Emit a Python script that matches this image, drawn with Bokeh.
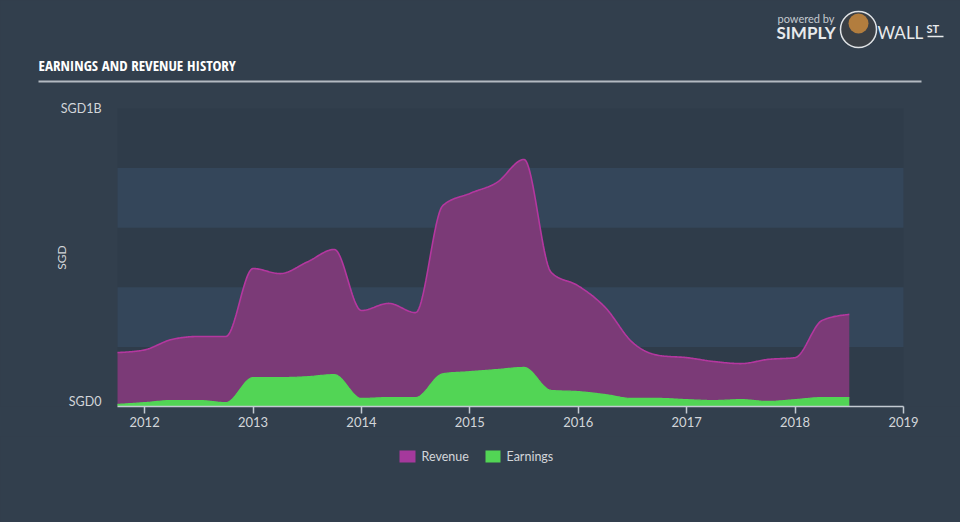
import numpy as np
from bokeh.plotting import figure
from bokeh.layouts import column
from bokeh.models import BoxAnnotation, FixedTicker, Range1d
from bokeh.core.properties import value
from bokeh.embed import file_html
from bokeh.resources import INLINE

# ---------------- data (SGD billions, quarter ends as decimal years) ----------------
quarters = [2011.75, 2012.0, 2012.25, 2012.5, 2012.75, 2013.0, 2013.25, 2013.5, 2013.75,
            2014.0, 2014.25, 2014.5, 2014.75, 2015.0, 2015.25, 2015.5, 2015.75,
            2016.0, 2016.25, 2016.5, 2016.75, 2017.0, 2017.25, 2017.5, 2017.75,
            2018.0, 2018.25, 2018.5]
revenue = [0.181, 0.190, 0.225, 0.235, 0.235, 0.463, 0.446, 0.485, 0.527,
           0.322, 0.346, 0.315, 0.674, 0.715, 0.752, 0.829, 0.450,
           0.405, 0.332, 0.215, 0.171, 0.164, 0.151, 0.144, 0.158,
           0.164, 0.289, 0.309]
earnings = [0.007, 0.013, 0.020, 0.020, 0.013, 0.097, 0.097, 0.100, 0.107,
            0.027, 0.030, 0.030, 0.110, 0.117, 0.124, 0.131, 0.054,
            0.050, 0.040, 0.027, 0.027, 0.023, 0.020, 0.023, 0.017,
            0.023, 0.030, 0.030]
year_ticks = [2012, 2013, 2014, 2015, 2016, 2017, 2018, 2019]
y_labels = ["SGD0", "SGD1B"]
series_names = ["Revenue", "Earnings"]

# ---------------- geometry (pixels of the 960x522 canvas) ----------------
W, H = 960, 522
FL, FR, FT, FB = 117, 903, 108, 406          # plot area
X0, X1, Y0, Y1 = 2011.75, 2019.0, 0.0, 1.0   # its data extent
AXIS_H = 30                                  # panel under the plot for the x axis
HA = FB + AXIS_H                             # height of main figure
HB = H - HA                                  # height of legend strip


def px2x(px):
    return X0 + (px - FL) / (FR - FL) * (X1 - X0)


def py2y(py):
    return Y1 - (py - FT) / (FB - FT) * (Y1 - Y0)


def monotone_curve(xs, ys, steps=24):
    """Render helper: monotone cubic (d3 curveMonotoneX style) path through the points."""
    xs = np.asarray(xs, float)
    ys = np.asarray(ys, float)
    n = len(xs)
    h = np.diff(xs)
    s = np.diff(ys) / h
    t = np.zeros(n)
    for i in range(1, n - 1):
        p_ = (s[i - 1] * h[i] + s[i] * h[i - 1]) / (h[i - 1] + h[i])
        t[i] = (np.sign(s[i - 1]) + np.sign(s[i])) * min(abs(s[i - 1]), abs(s[i]), 0.5 * abs(p_))
    t[0] = (3 * s[0] - t[1]) / 2
    t[-1] = (3 * s[-1] - t[-2]) / 2
    ox, oy = [], []
    for i in range(n - 1):
        u = np.linspace(0, 1, steps, endpoint=(i == n - 2))
        h00 = 2 * u**3 - 3 * u**2 + 1
        h10 = u**3 - 2 * u**2 + u
        h01 = -2 * u**3 + 3 * u**2
        h11 = u**3 - u**2
        ox.extend(xs[i] + u * h[i])
        oy.extend(h00 * ys[i] + h10 * h[i] * t[i] + h01 * ys[i + 1] + h11 * h[i] * t[i + 1])
    return np.array(ox), np.array(oy)


BG = "#323f4d"
DARK = "#2f3c4a"
LIGHT = "#34465a"
TXT = "#d2d6da"
FONT = "Lato"
REV_FILL, REV_LINE, REV_SWATCH = "#7b3a77", "#b4379f", "#a5399c"
EARN = "#52d555"


def style_fig(fig):
    # no border fill (avoids the svg seam at the frame edge); page colour comes from CSS
    fig.border_fill_color = None
    fig.background_fill_color = BG
    fig.outline_line_color = None
    fig.grid.visible = False
    fig.styles = {"background-color": BG}


# frame covers the canvas down to the axis line; the x axis sits in the panel below
p = figure(width=W, height=HA, output_backend="svg", toolbar_location=None,
           x_range=Range1d(px2x(0), px2x(W)), y_range=Range1d(py2y(FB), py2y(0)),
           min_border_left=0, min_border_right=0, min_border_top=0,
           min_border_bottom=AXIS_H)
style_fig(p)
p.yaxis.visible = False

# plot-area background and alternating bands
p.add_layout(BoxAnnotation(left=X0, right=X1, bottom=0.0, top=1.0, fill_color=DARK,
                           fill_alpha=1.0, line_color=None, level="underlay"))
for b, t_ in [(0.2, 0.4), (0.6, 0.8)]:
    p.add_layout(BoxAnnotation(left=X0, right=X1, bottom=b, top=t_, fill_color=LIGHT,
                               fill_alpha=1.0, line_color=None, level="underlay"))

# areas
rx, ry = monotone_curve(quarters, revenue)
ex, ey = monotone_curve(quarters, earnings)
p.varea(x=rx, y1=0, y2=ry, fill_color=REV_FILL, fill_alpha=1.0)
p.line(rx, ry, line_color=REV_LINE, line_width=1.6)
p.varea(x=ex, y1=0, y2=ey, fill_color=EARN, fill_alpha=1.0)
p.line(ex, ey, line_color=EARN, line_width=1.2)

# x axis
ax = p.xaxis[0]
ax.bounds = (X0, X1)
ax.ticker = FixedTicker(ticks=year_ticks)
ax.major_label_overrides = {y: str(y) for y in year_ticks}
ax.axis_line_color = "#c3cad2"
ax.axis_line_width = 1.5
ax.major_tick_line_color = "#c3cad2"
ax.major_tick_line_width = 1.5
ax.major_tick_in = 0
ax.major_tick_out = 7
ax.minor_tick_line_color = None
ax.major_label_text_color = TXT
ax.major_label_text_font = FONT
ax.major_label_text_font_size = "13px"
ax.major_label_standoff = 3


def txt(fig, x, y, s, size, color=TXT, align="left", font=FONT, style="normal", angle=0.0):
    fig.text(x=[x], y=[y], text=[s], text_align=align,
             text_baseline="middle", text_color=color, text_font=value(font),
             text_font_size=size, text_font_style=style, angle=angle)


# y labels
txt(p, px2x(101), py2y(108), y_labels[1], "12.5px", align="right")
txt(p, px2x(101), py2y(401), y_labels[0], "12.5px", align="right")
txt(p, px2x(61), py2y(257), "SGD", "12px", align="center", angle=np.pi / 2)

# title and underline
txt(p, px2x(38), py2y(64), "EARNINGS AND REVENUE HISTORY", "15px", color="#ffffff",
    font="Open Sans Condensed", style="bold")
p.segment(x0=[px2x(38)], y0=[py2y(81)], x1=[px2x(921)], y1=[py2y(81)],
          line_color="#b3bac2", line_width=2)

# logo
txt(p, px2x(777), py2y(18), "powered by", "11px", color="#c5cad0")
txt(p, px2x(776), py2y(32), "SIMPLY", "17px", color="#e8eaec", style="bold")
p.scatter(x=[px2x(858)], y=[py2y(29)], size=36, marker="circle",
          fill_color="#3a3f45", line_color="#dfe2e5", line_width=1.5)
p.scatter(x=[px2x(858)], y=[py2y(23)], size=20, marker="circle",
          fill_color="#b27d3e", line_color=None)
txt(p, px2x(877), py2y(32), "WALL", "17px", color="#e8eaec")
txt(p, px2x(926), py2y(28), "ST", "11px", color="#e8eaec", style="bold")
p.segment(x0=[px2x(927)], y0=[py2y(36)], x1=[px2x(943)], y1=[py2y(36)],
          line_color="#e8eaec", line_width=1.5)

# ---------------- legend strip (canvas pixel coordinates) ----------------
q = figure(width=W, height=HB, output_backend="svg", toolbar_location=None,
           x_range=Range1d(0, W), y_range=Range1d(H, HA),
           min_border=0)
style_fig(q)
q.axis.visible = False
q.quad(left=[399, 485], right=[415, 500], top=[450, 450], bottom=[462, 462],
       fill_color=[REV_SWATCH, EARN], line_color=None)
txt(q, 421, 456, series_names[0], "12.5px")
txt(q, 506, 456, series_names[1], "12.5px")

layout = column(p, q, spacing=0, styles={"background-color": BG})
open("out.html", "w").write(file_html(layout, INLINE))
